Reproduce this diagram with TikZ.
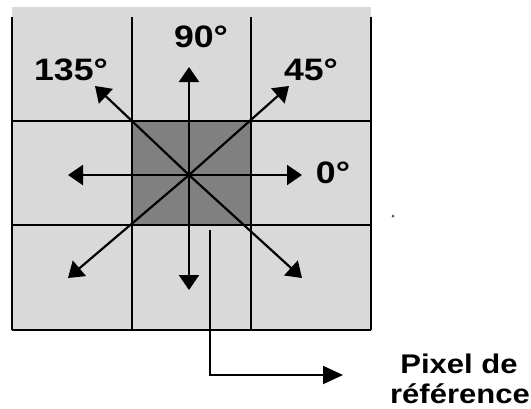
\documentclass[tikz,border=0pt]{standalone}
\usepackage{fontspec}
\setmainfont{Liberation Sans}
\newfontfamily\lblfont[FakeStretch=1.15]{Liberation Sans}
\usetikzlibrary{arrows.meta}
\definecolor{cellgray}{RGB}{217,217,217}
\definecolor{pixgray}{RGB}{128,128,128}

\begin{document}
\begin{tikzpicture}[x=1pt, y=1pt,
    myline/.style={line width=1.5pt},
    myarrow/.style={line width=2.2pt, -{Triangle[length=15pt,width=20pt]}},
    mylabel/.style={font=\lblfont\bfseries\fontsize{31}{32}\selectfont, inner sep=0pt, anchor=base}
]
    \useasboundingbox (0,0) rectangle (531,-408);

    % Cells
    \fill[cellgray] (12,-7) rectangle (371,-330);
    \fill[pixgray] (132,-121) rectangle (251,-225);

    % Grid lines
    \foreach \gx in {12,132,251,371}
        \draw[myline] (\gx,-17) -- (\gx,-330);
    \foreach \gy in {121,225,330}
        \draw[myline] (12,-\gy) -- (371,-\gy);

    % Centre and arrow tips
    \coordinate (c) at (189,-175);
    \coordinate (t0) at (302,-175);
    \coordinate (t45) at (289,-86);
    \coordinate (t90) at (189,-67);
    \coordinate (t135) at (95,-86);
    \coordinate (t180) at (68,-175);
    \coordinate (t225) at (68,-278);
    \coordinate (t270) at (189,-290);
    \coordinate (t315) at (302,-278);

    \foreach \a in {0,45,90,135,180,225,270,315}
        \draw[myarrow] (c) -- (t\a);

    % Angle labels
    \node[mylabel] (l135) at (71,-80) {135°};
    \node[mylabel] (l90) at (201,-47) {90°};
    \node[mylabel] (l45) at (311,-80) {45°};
    \node[mylabel] (l0) at (333,-183) {0°};

    % Reference pixel
    \coordinate (ref) at (210,-230);
    \coordinate (bend) at (210,-375);
    \coordinate (refend) at (343,-375);
    \draw[line width=2pt, -{Triangle[length=20pt,width=18pt]}] (ref) -- (bend) -- (refend);
    \node[mylabel, font=\lblfont\bfseries\fontsize{27}{30}\selectfont] (pix) at (459,-373) {Pixel de};
    \node[mylabel, font=\lblfont\bfseries\fontsize{27}{30}\selectfont] (refl) at (460,-403) {référence};

    % stray dot
    \fill[black!70] (393,-216) circle (1.5);
\end{tikzpicture}
\end{document}
